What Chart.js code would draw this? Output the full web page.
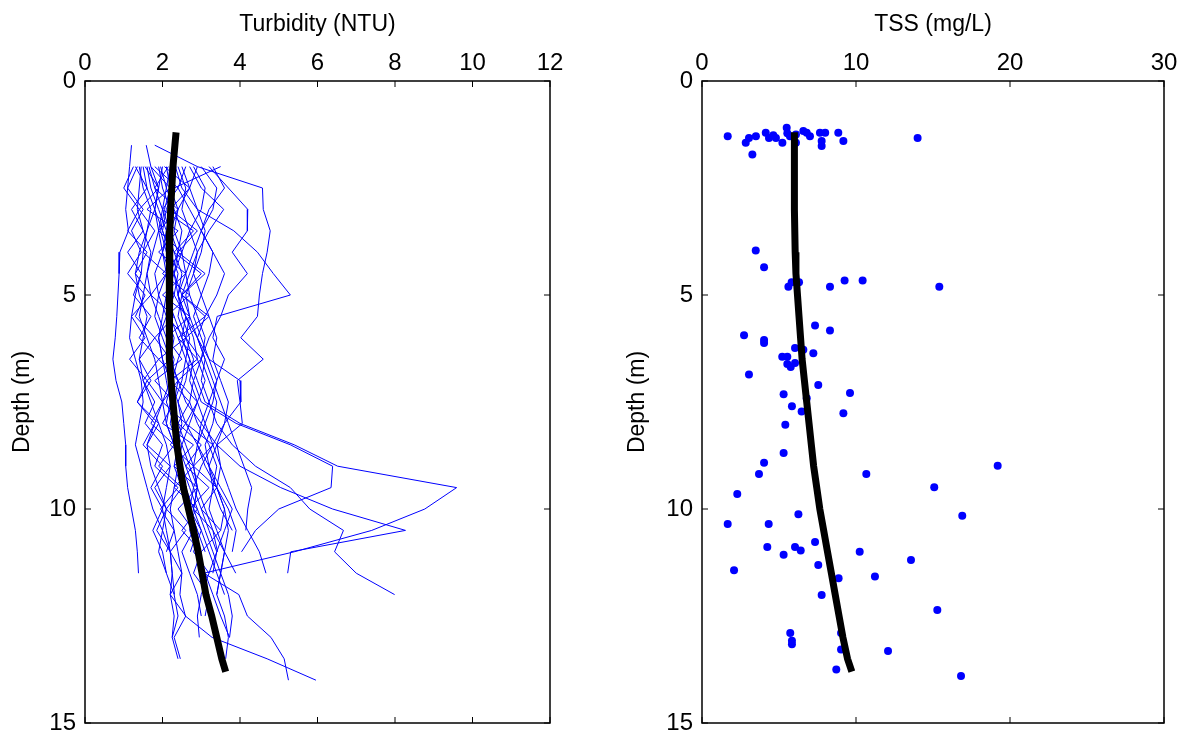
<!DOCTYPE html>
<html><head><meta charset="utf-8">
<script src="https://cdn.jsdelivr.net/npm/chart.js@4.4.1/dist/chart.umd.min.js"></script>
<style>
html,body{margin:0;padding:0;background:#fff;}
#wrap{position:relative;width:1186px;height:736px;background:#fff;}
canvas{position:absolute;top:0;}
#c1{left:0;} #c2{left:593px;}
</style></head><body>
<div id="wrap"><canvas id="c1" width="593" height="736" style="width:593px;height:736px"></canvas><canvas id="c2" width="593" height="736" style="width:593px;height:736px"></canvas></div>
<script>
const _ = null;
// Depths (m) of the turbidity profile samples
const depths = [1.5,2,2.5,3,3.5,4,4.5,5,5.5,6,6.5,7,7.5,8,8.5,9,9.5,10,10.5,11,11.5,12,12.5,13,13.5,14];
// Turbidity profiles (NTU), aligned with depths
const p01 = [1.20,1.15,1.10,1.05,1.12,0.90,0.88,0.85,0.82,0.78,0.72,0.80,0.95,1.00,1.05,1.05,1.10,1.20,1.30,1.35,1.38,_,_,_,_,_];
const p02 = [1.58,1.70,1.90,1.80,1.60,1.50,1.45,1.30,1.20,1.15,1.30,1.45,1.50,1.40,1.30,1.45,1.60,1.75,2.00,2.20,2.25,2.31,_,_,_,_];
const p03 = [1.80,2.90,4.58,4.60,4.78,4.70,4.58,4.50,4.45,4.02,4.60,3.93,4.00,4.06,3.41,3.50,3.70,3.90,4.20,4.50,4.67,_,_,_,_,_];
const p04 = [_,2.33,2.50,2.90,3.84,4.45,4.86,5.30,3.41,3.30,3.60,3.40,3.20,3.00,2.90,2.80,2.90,3.10,3.30,3.60,3.89,_,_,_,_,_];
const p05 = [_,2.10,2.20,2.40,2.30,2.50,2.60,2.40,2.50,2.70,2.60,2.80,3.00,3.90,5.30,6.39,6.35,5.00,4.40,4.04,_,_,_,_,_,_];
const p06 = [_,1.90,2.00,2.20,2.10,2.30,2.50,2.40,2.60,2.50,2.70,2.90,3.10,4.00,5.40,6.52,9.59,8.77,7.40,5.40,3.07,3.97,4.19,4.80,5.14,5.25];
const p07 = [_,1.60,1.70,1.90,2.10,2.00,1.80,1.90,2.10,2.30,2.20,2.40,2.60,3.00,3.40,4.00,5.05,6.39,8.27,5.31,5.23,_,_,_,_,_];
const p08 = [_,2.40,2.60,2.50,2.70,2.90,2.80,2.60,2.70,2.90,3.10,3.00,3.20,3.40,3.80,4.40,5.30,5.80,6.67,6.44,7.00,7.99,_,_,_,_];
const p09 = [_,2.00,1.90,1.80,1.90,2.00,2.20,2.10,2.00,1.90,2.00,2.10,2.20,2.10,2.30,2.40,2.30,2.20,2.30,2.40,2.50,2.45,2.59,3.28,4.70,5.96];
const p10 = [_,3.50,2.30,2.10,2.00,2.20,2.40,2.30,2.10,1.90,2.00,2.20,2.40,2.50,2.40,2.30,2.50,2.70,2.90,2.72,_,_,_,_,_,_];
const p11 = [_,1.40,1.50,1.70,1.60,1.40,1.30,1.40,1.60,1.50,1.40,1.50,1.70,1.90,2.10,2.20,2.10,2.00,2.10,2.20,2.25,2.20,2.30,2.25,_,_];
const p12 = [_,2.70,3.00,3.58,3.20,2.90,2.70,2.50,2.40,2.60,2.80,2.70,2.90,3.10,3.30,3.50,3.40,3.60,3.70,3.60,3.50,3.70,3.80,3.73,_,_];
const p13 = [_,1.55,1.90,1.40,1.80,1.50,2.10,1.70,2.30,1.80,2.20,1.60,2.00,1.70,2.30,1.90,2.50,2.10,2.60,2.20,2.50,2.20,2.60,2.30,2.46,_];
const p14 = [_,3.00,3.40,3.30,3.00,2.80,2.60,2.70,2.90,3.10,3.00,2.80,2.70,2.90,3.20,3.40,3.30,3.20,3.40,3.60,3.50,3.40,3.60,3.70,3.63,_];
const p15 = [_,2.20,2.10,2.00,2.20,2.40,2.30,2.10,2.20,2.40,2.60,2.50,2.30,2.40,2.60,2.80,2.90,2.80,3.30,3.42,_,_,_,_,_,_];
const p16 = [_,1.30,1.60,1.20,1.50,1.10,1.45,1.25,1.70,1.40,1.90,1.50,1.80,1.55,2.00,1.80,2.40,1.95,2.30,2.10,_,_,_,_,_,_];
const p17 = [_,3.30,3.60,3.20,3.00,3.30,3.60,3.40,3.10,2.90,3.10,3.30,3.50,3.70,3.90,4.10,4.30,4.20,4.15,_,_,_,_,_,_,_];
const p18 = [_,1.80,2.40,2.00,2.80,2.30,3.00,2.50,3.10,2.40,2.90,2.20,2.70,2.40,3.00,2.60,3.20,2.70,3.00,2.80,3.20,_,_,_,_,_];
const p19 = [_,2.50,2.70,2.90,3.10,3.00,2.80,3.00,3.20,3.40,3.30,3.50,3.70,3.60,3.40,3.20,3.30,3.50,3.80,_,_,_,_,_,_,_];
const p20 = [_,1.50,1.60,1.80,2.00,2.20,2.10,1.90,1.80,2.00,2.20,2.40,2.30,2.20,2.40,2.60,2.80,3.00,3.20,3.40,3.30,_,_,_,_,_];
const p21 = [_,1.70,2.20,1.60,2.40,1.90,2.60,2.00,2.70,2.10,2.50,1.80,2.30,2.00,2.80,2.30,2.90,2.40,2.80,2.50,2.70,2.90,3.00,_,_,_];
const p22 = [_,2.60,2.40,2.70,3.00,3.30,3.20,3.00,2.80,3.00,3.20,4.00,4.02,3.60,3.30,3.00,2.80,2.70,2.90,3.10,_,_,_,_,_,_];
const p23 = [_,1.45,1.40,1.35,1.50,1.70,1.60,1.50,1.40,1.60,1.80,1.90,2.00,1.80,1.60,1.70,1.90,2.10,2.00,1.90,2.10,2.30,2.40,2.25,2.40,_];
const p24 = [_,2.05,2.70,2.20,2.90,2.40,3.10,2.50,3.20,2.60,3.00,2.40,2.90,2.60,3.30,2.80,3.40,3.00,3.50,3.00,_,_,_,_,_,_];
const p25 = [_,3.20,3.70,4.20,4.19,3.80,4.19,3.70,3.50,3.20,3.00,3.20,3.40,3.30,3.10,3.20,3.40,3.60,3.50,_,_,_,_,_,_,_];
const p26 = [_,1.65,1.80,2.00,1.90,1.75,1.60,1.70,1.90,2.10,2.30,2.20,2.00,2.10,2.30,2.50,2.70,2.90,3.10,3.30,3.50,3.40,_,_,_,_];
const p27 = [_,2.15,1.80,2.40,1.90,2.50,2.00,2.70,2.10,2.60,1.90,2.40,2.00,2.60,2.20,2.80,2.30,2.90,2.50,3.00,2.80,3.20,3.10,_,_,_];
const p28 = [_,1.35,1.10,1.50,1.20,1.45,1.10,1.55,1.30,1.80,1.40,1.70,1.35,1.80,1.50,2.00,1.70,2.00,1.75,2.00,2.10,_,_,_,_,_];
const p29 = [_,2.90,2.70,2.40,2.20,2.00,2.10,2.30,2.60,2.90,3.20,3.40,3.30,3.10,2.90,3.10,3.40,3.70,3.90,3.80,_,_,_,_,_,_];
const p30 = [_,1.95,2.10,2.30,2.50,2.40,2.20,2.10,2.30,2.50,2.70,2.60,2.40,2.60,2.90,3.20,3.50,3.80,3.60,3.40,3.20,3.00,2.90,2.95,_,_];
const p31 = [_,1.25,1.00,1.40,1.10,1.60,1.30,1.70,1.20,1.55,1.15,1.60,1.35,1.90,1.60,2.20,1.80,2.10,1.85,2.20,_,_,_,_,_,_];
const p32 = [_,2.35,2.20,2.05,1.95,2.10,2.30,2.50,2.70,2.60,2.40,2.25,2.10,2.30,2.50,2.70,2.90,2.80,2.70,2.90,3.10,3.30,3.50,3.73,_,_];
const p33 = [_,2.80,3.10,3.00,2.70,2.50,2.30,2.40,2.60,2.80,2.90,3.10,2.90,2.70,2.50,2.40,2.60,2.80,3.00,3.20,3.40,3.60,_,_,_,_];
const profiles = [p01,p02,p03,p04,p05,p06,p07,p08,p09,p10,p11,p12,p13,p14,p15,p16,p17,p18,p19,p20,p21,p22,p23,p24,p25,p26,p27,p28,p29,p30,p31,p32,p33];

// Mean turbidity profile (thick black)
const turbMeanDepth = [1.2,1.5,2,2.5,3,3.5,4,4.5,5,5.5,6,6.5,7,7.5,8,8.5,9,9.5,10,10.5,11,11.5,12,12.5,13,13.5,13.8];
const turbMean      = [2.35,2.32,2.27,2.24,2.21,2.19,2.18,2.17,2.17,2.17,2.18,2.19,2.22,2.27,2.32,2.37,2.45,2.54,2.67,2.80,2.92,3.02,3.12,3.27,3.40,3.53,3.63];

// TSS samples (mg/L) and their depths (m)
const tssValue = [1.67,2.84,3.05,3.50,3.27,4.14,4.35,4.63,4.80,5.22,5.50,5.54,5.71,6.10,6.10,6.58,6.80,7.01,7.66,8.00,7.77,7.77,8.85,9.18,14.0,
  3.49,4.03,5.82,5.61,6.30,8.31,9.26,10.43,15.41,7.34,8.31,2.73,4.03,4.03,6.04,6.58,7.23,5.21,5.54,5.54,6.04,5.76,3.05,7.55,5.30,9.61,6.80,
  5.84,6.47,9.18,5.41,5.30,4.03,3.70,10.67,15.08,2.29,16.90,6.26,1.67,4.33,7.34,4.24,6.04,6.41,10.24,5.30,13.57,7.55,2.08,8.87,11.23,7.77,
  15.28,5.73,5.84,5.84,9.03,9.03,12.08,8.72,16.82,19.20];
const tssDepth = [1.29,1.44,1.33,1.29,1.72,1.21,1.33,1.27,1.33,1.44,1.09,1.22,1.29,1.25,1.44,1.17,1.21,1.29,1.21,1.21,1.40,1.52,1.21,1.40,1.33,
  3.96,4.35,4.70,4.81,4.70,4.81,4.66,4.66,4.81,5.71,5.83,5.94,6.05,6.12,6.24,6.28,6.36,6.44,6.44,6.61,6.59,6.68,6.86,7.10,7.32,7.29,7.41,
  7.60,7.72,7.76,8.03,8.69,8.92,9.18,9.18,9.49,9.65,10.16,10.12,10.35,10.35,10.77,10.89,10.89,10.97,11.00,11.07,11.19,11.31,11.43,11.62,11.58,12.01,
  12.36,12.90,13.08,13.16,12.90,13.28,13.32,13.75,13.90,8.99];

// Mean TSS profile (thick black)
const tssMeanDepth = [1.2,2,3,4,4.5,5,5.5,6,6.5,7,7.5,8,8.5,9,9.5,10,10.5,11,11.5,12,12.5,13,13.5,13.8];
const tssMean      = [6.0,6.0,6.0,6.05,6.1,6.2,6.3,6.4,6.5,6.65,6.8,6.95,7.1,7.25,7.45,7.65,7.9,8.15,8.4,8.65,8.9,9.15,9.45,9.73];

const turbTicks = {min:0, max:12, step:2};
const tssTicks  = {min:0, max:30, step:10};
const depthTicks = {min:0, max:15, step:5};

const FONT = "'Liberation Sans', Arial, sans-serif";
const pts = (xs, ys) => xs.map((v,i)=>({x:v, y:ys[i]})).filter(p=>p.x!==null);

const frame = {
  id:'frame',
  afterDraw(chart){
    const {ctx, chartArea:a, scales:{x,y}} = chart;
    ctx.save();
    ctx.strokeStyle='#000'; ctx.lineWidth=1.5;
    ctx.strokeRect(a.left, a.top, a.right-a.left, a.bottom-a.top);
    ctx.beginPath();
    x.ticks.forEach(t=>{const p=x.getPixelForValue(t.value); ctx.moveTo(p,a.top); ctx.lineTo(p,a.top+6); ctx.moveTo(p,a.bottom); ctx.lineTo(p,a.bottom-6);});
    y.ticks.forEach(t=>{const p=y.getPixelForValue(t.value); ctx.moveTo(a.left,p); ctx.lineTo(a.left+6,p); ctx.moveTo(a.right,p); ctx.lineTo(a.right-6,p);});
    ctx.lineWidth=1; ctx.stroke();
    ctx.restore();
  }
};

function makeScales(xt, xTitle, yWidth, yTitlePad){
  return {
    x:{type:'linear', position:'top', min:xt.min, max:xt.max,
       ticks:{stepSize:xt.step, color:'#000', font:{family:FONT,size:24}, padding:3, maxRotation:0},
       grid:{display:false, drawTicks:false}, border:{display:false},
       title:{display:true, text:xTitle, color:'#000', font:{family:FONT,size:23}, padding:{top:11,bottom:0}},
       afterFit(s){ s.height = 81; }},
    y:{type:'linear', reverse:true, min:depthTicks.min, max:depthTicks.max,
       ticks:{stepSize:depthTicks.step, color:'#000', font:{family:FONT,size:24}, padding:9},
       grid:{display:false, drawTicks:false}, border:{display:false},
       title:{display:true, text:'Depth (m)', color:'#000', font:{family:FONT,size:23}, padding:{top:yTitlePad,bottom:0}},
       afterFit(s){ s.width = yWidth; s.paddingBottom = 0; s.paddingTop = 0; }}
  };
}

const common = {responsive:false, animation:false, devicePixelRatio:1,
  plugins:{legend:{display:false}, tooltip:{enabled:false}}};

const turbSets = [{data:pts(turbMean, turbMeanDepth), showLine:true, borderColor:'#000', borderWidth:7, pointRadius:0, fill:false, borderCapStyle:'butt'}];
profiles.forEach(p=>turbSets.push({data:pts(p, depths), showLine:true, borderColor:'#0000ff', borderWidth:1, pointRadius:0, fill:false}));

new Chart(document.getElementById('c1'), {
  type:'scatter',
  data:{datasets:turbSets},
  options:Object.assign({}, common, {
    layout:{padding:{left:0,right:43,top:0,bottom:13}},
    scales:makeScales(turbTicks, 'Turbidity (NTU)', 85, 9)
  }),
  plugins:[frame]
});

new Chart(document.getElementById('c2'), {
  type:'scatter',
  data:{datasets:[
    {data:pts(tssMean, tssMeanDepth), showLine:true, borderColor:'#000', borderWidth:7, pointRadius:0, fill:false},
    {data:pts(tssValue, tssDepth), showLine:false, pointRadius:4, pointBackgroundColor:'#0000ff', pointBorderWidth:0, borderColor:'#0000ff'}
  ]},
  options:Object.assign({}, common, {
    layout:{padding:{left:0,right:22,top:0,bottom:13}},
    scales:makeScales(tssTicks, 'TSS (mg/L)', 109, 31)
  }),
  plugins:[frame]
});
</script>
</body></html>
